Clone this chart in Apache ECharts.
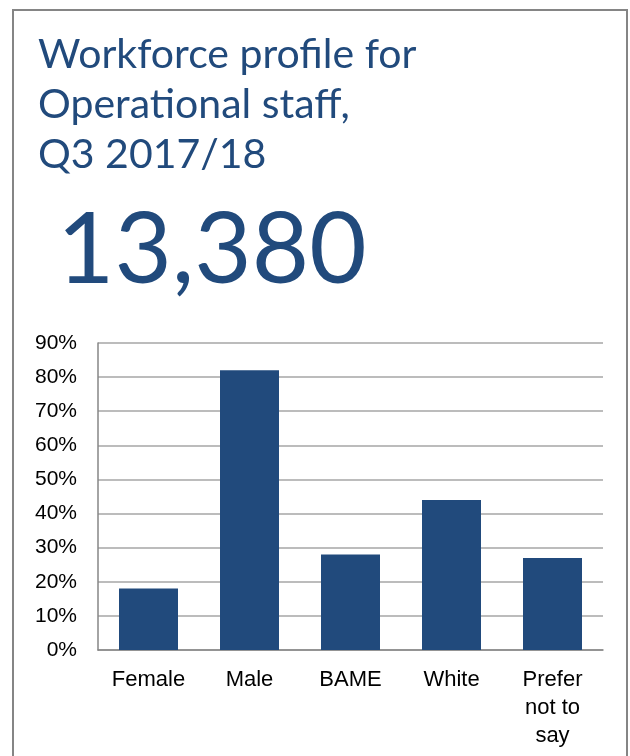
<!DOCTYPE html>
<html style="height: 100%">

<head>
  <meta charset="UTF-8" />
  <title>Workforce profile for Operational staff</title>
  <script src="https://cdn.jsdelivr.net/npm/echarts@6/dist/echarts.min.js"></script>
</head>

<body style="height: 100%; margin: 0; background: #fff">
  <div id="main" style="width: 630px; height: 756px"></div>
  <script>
    const categories = ['Female', 'Male', 'BAME', 'White', 'Prefer\nnot to\nsay'];
    const shares = [18, 82, 28, 44, 27]; // percent of staff
    const headcount = '13,380';
    const titleText = 'Workforce profile for\nOperational staff,\nQ3 2017/18';

    const navy = '#214a7c';
    const chart = echarts.init(document.getElementById('main'));

    chart.setOption({
      animation: false,
      title: [
        {
          text: titleText,
          left: 33,
          top: 25,
          textStyle: {
            fontFamily: 'Lato',
            fontWeight: 'normal',
            fontSize: 41,
            lineHeight: 50,
            color: navy,
          },
        },
        {
          text: headcount,
          left: 52,
          top: 197,
          textStyle: {
            fontFamily: 'Lato',
            fontWeight: 'normal',
            fontSize: 99,
            color: navy,
          },
        },
      ],
      graphic: [
        {
          type: 'rect',
          shape: { x: 13, y: 10, width: 614, height: 780 },
          style: { fill: 'none', stroke: '#858585', lineWidth: 2 },
          silent: true,
        },
      ],
      grid: {
        left: 98,
        right: 27,
        top: 343,
        bottom: 106,
      },
      xAxis: {
        type: 'category',
        data: categories,
        axisTick: { show: false },
        axisLine: { lineStyle: { color: '#868686', width: 1.5 } },
        axisLabel: {
          color: '#000',
          fontFamily: 'Liberation Sans',
          fontSize: 22,
          lineHeight: 28,
          margin: 16,
          interval: 0,
        },
      },
      yAxis: {
        type: 'value',
        min: 0,
        max: 90,
        interval: 10,
        axisLine: { show: true, lineStyle: { color: '#868686', width: 1.5 } },
        axisTick: { show: false },
        splitLine: { lineStyle: { color: '#a6a6a6', width: 1.5 } },
        axisLabel: {
          color: '#000',
          fontFamily: 'Liberation Sans',
          fontSize: 21,
          margin: 21,
          formatter: '{value}%',
        },
      },
      series: [
        {
          type: 'bar',
          data: shares,
          barWidth: 59,
          itemStyle: { color: navy },
        },
      ],
    });
  </script>
</body>

</html>
